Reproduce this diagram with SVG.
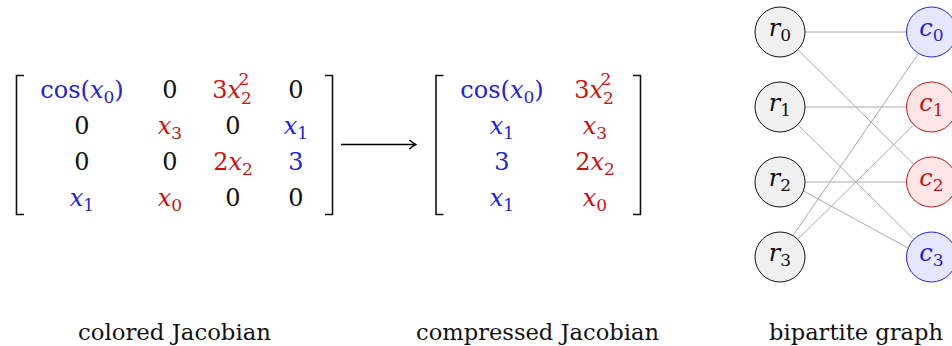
<svg xmlns="http://www.w3.org/2000/svg" width="952" height="346" viewBox="0 0 952 346" font-family="'DejaVu Serif', serif">
  <defs>
    <style>
      .m { font-size: 24px; text-anchor: middle; fill: #111; }
      .i { font-style: italic; }
      .s { font-size: 17px; font-style: normal; }
      .b { fill: #2424cc; }
      .r { fill: #c41414; }
      .lab { font-size: 22.6px; fill: #111; }
      .br { fill: none; stroke: #111; stroke-width: 1.6; }
      .edge { stroke: #aaaaaa; stroke-width: 1; fill: none; }
      .ng { fill: #f0f0f0; stroke: #111; stroke-width: 1; }
      .nb { fill: #e6e6ff; stroke: #2424cc; stroke-width: 1; }
      .nr { fill: #ffe6e6; stroke: #c41414; stroke-width: 1; }
      .arrow { stroke: #000; stroke-width: 1.6; fill: none; }
    </style>
    <marker id="to" viewBox="-6 -5 8 10" refX="0.8" refY="0" markerWidth="8" markerHeight="10" markerUnits="userSpaceOnUse" orient="auto">
      <path d="M -5 -4.2 Q -1.2 -1 1 0 Q -1.2 1 -5 4.2" fill="none" stroke="#000" stroke-width="1.4" stroke-linecap="round"/>
    </marker>
  </defs>

  <g id="colored-jacobian">
    <path class="br" d="M 24 75.5 H 16.5 V 214.5 H 24"/>
    <path class="br" d="M 325 75.5 H 332.5 V 214.5 H 325"/>
    <text class="m b" x="82" y="98">cos(<tspan class="i">x</tspan><tspan class="s" dy="5">0</tspan><tspan dy="-5">)</tspan></text>
    <text class="m" x="170" y="98">0</text>
    <text class="m r" x="232" y="98">3<tspan class="i">x</tspan><tspan class="s" dy="6">2</tspan></text>
    <text class="m r s" x="244" y="85" text-anchor="start">2</text>
    <text class="m" x="296" y="98">0</text>
    <text class="m" x="82" y="134">0</text>
    <text class="m r" x="170" y="134"><tspan class="i">x</tspan><tspan class="s" dy="5">3</tspan></text>
    <text class="m" x="233" y="134">0</text>
    <text class="m b" x="296" y="134"><tspan class="i">x</tspan><tspan class="s" dy="5">1</tspan></text>
    <text class="m" x="82" y="170">0</text>
    <text class="m" x="170" y="170">0</text>
    <text class="m r" x="233" y="170">2<tspan class="i">x</tspan><tspan class="s" dy="5">2</tspan></text>
    <text class="m b" x="296" y="170">3</text>
    <text class="m b" x="82" y="206"><tspan class="i">x</tspan><tspan class="s" dy="5">1</tspan></text>
    <text class="m r" x="170" y="206"><tspan class="i">x</tspan><tspan class="s" dy="5">0</tspan></text>
    <text class="m" x="233" y="206">0</text>
    <text class="m" x="296" y="206">0</text>
  </g>

  <g id="compressed-jacobian">
    <path class="br" d="M 443.5 75.5 H 436 V 214.5 H 443.5"/>
    <path class="br" d="M 633 75.5 H 640.5 V 214.5 H 633"/>
    <text class="m b" x="502" y="98">cos(<tspan class="i">x</tspan><tspan class="s" dy="5">0</tspan><tspan dy="-5">)</tspan></text>
    <text class="m r" x="594" y="98">3<tspan class="i">x</tspan><tspan class="s" dy="6">2</tspan></text>
    <text class="m r s" x="606" y="85" text-anchor="start">2</text>
    <text class="m b" x="502" y="134"><tspan class="i">x</tspan><tspan class="s" dy="5">1</tspan></text>
    <text class="m r" x="595" y="134"><tspan class="i">x</tspan><tspan class="s" dy="5">3</tspan></text>
    <text class="m b" x="502" y="170">3</text>
    <text class="m r" x="595" y="170">2<tspan class="i">x</tspan><tspan class="s" dy="5">2</tspan></text>
    <text class="m b" x="502" y="206"><tspan class="i">x</tspan><tspan class="s" dy="5">1</tspan></text>
    <text class="m r" x="595" y="206"><tspan class="i">x</tspan><tspan class="s" dy="5">0</tspan></text>
  </g>

  <g id="connectors">
    <line class="arrow" x1="341" y1="144.5" x2="415.5" y2="144.5" marker-end="url(#to)"/>
    <line class="edge" x1="805" y1="32" x2="906.5" y2="32"/>
    <line class="edge" x1="797.7" y1="49.5" x2="914" y2="164.5"/>
    <line class="edge" x1="805" y1="107" x2="906.5" y2="107"/>
    <line class="edge" x1="797.7" y1="124.5" x2="914" y2="239.5"/>
    <line class="edge" x1="805" y1="182" x2="906.5" y2="182"/>
    <line class="edge" x1="803.5" y1="191" x2="908" y2="248"/>
    <line class="edge" x1="793" y1="235.5" x2="918.5" y2="53.5"/>
    <line class="edge" x1="797.7" y1="239.5" x2="914" y2="124.5"/>
  </g>

  <g id="r0"><circle class="ng" cx="780" cy="32" r="25"/><text class="m" x="780" y="36"><tspan class="i">r</tspan><tspan class="s" dy="5">0</tspan></text></g>
  <g id="r1"><circle class="ng" cx="780" cy="107" r="25"/><text class="m" x="780" y="111"><tspan class="i">r</tspan><tspan class="s" dy="5">1</tspan></text></g>
  <g id="r2"><circle class="ng" cx="780" cy="182" r="25"/><text class="m" x="780" y="186"><tspan class="i">r</tspan><tspan class="s" dy="5">2</tspan></text></g>
  <g id="r3"><circle class="ng" cx="780" cy="257" r="25"/><text class="m" x="780" y="261"><tspan class="i">r</tspan><tspan class="s" dy="5">3</tspan></text></g>
  <g id="c0"><circle class="nb" cx="931.5" cy="32" r="25"/><text class="m b" x="931.5" y="36"><tspan class="i">c</tspan><tspan class="s" dy="5">0</tspan></text></g>
  <g id="c1"><circle class="nr" cx="931.5" cy="107" r="25"/><text class="m r" x="931.5" y="111"><tspan class="i">c</tspan><tspan class="s" dy="5">1</tspan></text></g>
  <g id="c2"><circle class="nr" cx="931.5" cy="182" r="25"/><text class="m r" x="931.5" y="186"><tspan class="i">c</tspan><tspan class="s" dy="5">2</tspan></text></g>
  <g id="c3"><circle class="nb" cx="931.5" cy="257" r="25"/><text class="m b" x="931.5" y="261"><tspan class="i">c</tspan><tspan class="s" dy="5">3</tspan></text></g>

  <g id="labels">
    <text class="lab" x="78" y="340" textLength="193" lengthAdjust="spacingAndGlyphs">colored Jacobian</text>
    <text class="lab" x="416" y="340" textLength="243" lengthAdjust="spacingAndGlyphs">compressed Jacobian</text>
    <text class="lab" x="769" y="340" textLength="174" lengthAdjust="spacingAndGlyphs">bipartite graph</text>
  </g>
</svg>
